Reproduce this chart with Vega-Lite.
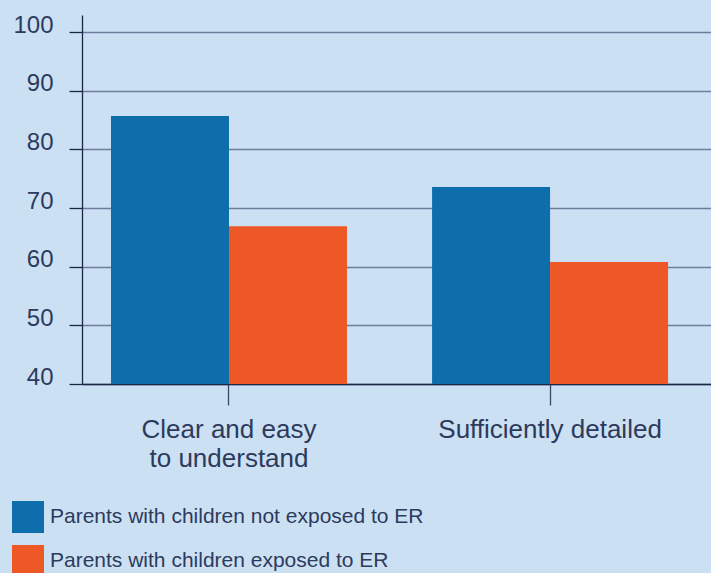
{
  "$schema": "https://vega.github.io/schema/vega-lite/v6.json",
  "autosize": "none",
  "width": 629,
  "height": 369,
  "padding": {"left": 82, "top": 15, "right": 0, "bottom": 189},
  "background": "#cce0f3",
  "config": {
    "view": {"stroke": null},
    "font": "Liberation Sans"
  },
  "data": {
    "values": [
      {"category": "Clear and easy|to understand", "group": "Parents with children not exposed to ER", "value": 85.7},
      {"category": "Clear and easy|to understand", "group": "Parents with children exposed to ER", "value": 66.9},
      {"category": "Sufficiently detailed", "group": "Parents with children not exposed to ER", "value": 73.6},
      {"category": "Sufficiently detailed", "group": "Parents with children exposed to ER", "value": 60.8}
    ]
  },
  "mark": {"type": "bar"},
  "encoding": {
    "x": {
      "field": "category",
      "type": "nominal",
      "sort": null,
      "scale": {"paddingInner": 0.265, "paddingOuter": 0.112, "align": 0.403},
      "axis": {
        "title": null,
        "labelAngle": 0,
        "labelExpr": "split(datum.label, '|')",
        "labelFontSize": 26,
        "labelLineHeight": 29,
        "labelLimit": 0,
        "labelColor": "#2c3a5c",
        "labelPadding": 11,
        "tickSize": 21,
        "tickColor": "#3a4868",
        "tickWidth": 1.3,
        "domainColor": "#1c2748",
        "domainWidth": 1.5,
        "grid": false
      }
    },
    "xOffset": {
      "field": "group",
      "type": "nominal",
      "sort": ["Parents with children not exposed to ER", "Parents with children exposed to ER"],
      "scale": {"paddingInner": 0, "paddingOuter": 0}
    },
    "y": {
      "field": "value",
      "type": "quantitative",
      "scale": {"domain": [40, 102.9], "nice": false, "zero": false},
      "axis": {
        "title": null,
        "values": [40, 50, 60, 70, 80, 90, 100],
        "grid": true,
        "gridColor": "#6d7d9c",
        "gridWidth": 1.3,
        "tickSize": 13,
        "tickColor": "#1c2748",
        "tickWidth": 1.3,
        "domainColor": "#1c2748",
        "domainWidth": 1.3,
        "labelFontSize": 24,
        "labelColor": "#2c3a5c",
        "labelPadding": 16,
        "labelOffset": -7
      }
    },
    "y2": {"datum": 40},
    "color": {
      "field": "group",
      "type": "nominal",
      "scale": {
        "domain": ["Parents with children not exposed to ER", "Parents with children exposed to ER"],
        "range": ["#0e6eab", "#ed5826"]
      },
      "legend": {
        "title": null,
        "orient": "none",
        "legendX": -70,
        "legendY": 486,
        "symbolType": "square",
        "symbolSize": 1024,
        "symbolStrokeWidth": 0,
        "symbolOpacity": 1,
        "labelFontSize": 21,
        "labelLimit": 0,
        "labelColor": "#2c3a5c",
        "labelOffset": 6,
        "rowPadding": 12
      }
    }
  }
}
